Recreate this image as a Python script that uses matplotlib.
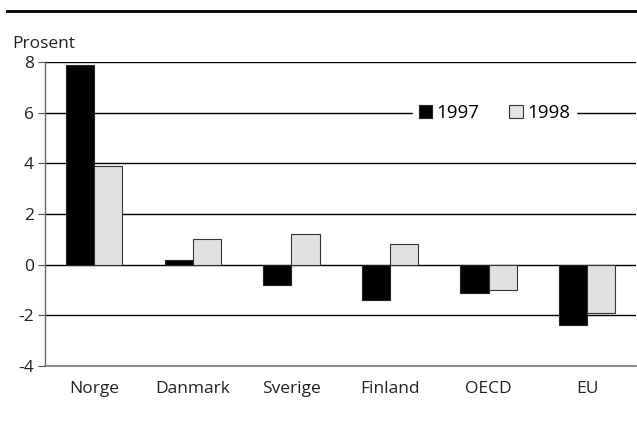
import matplotlib
matplotlib.use("Agg")
import matplotlib.pyplot as plt
from matplotlib.lines import Line2D
import numpy as np

categories = ["Norge", "Danmark", "Sverige", "Finland", "OECD", "EU"]
values_1997 = [7.9, 0.2, -0.8, -1.4, -1.1, -2.4]
values_1998 = [3.9, 1.0, 1.2, 0.8, -1.0, -1.9]
series_labels = ["1997", "1998"]
yticks = [-4, -2, 0, 2, 4, 6, 8]

plt.rcParams['font.family'] = ['Open Sans', 'DejaVu Sans']

fig = plt.figure(figsize=(6.37, 4.21), dpi=100)
ax = fig.add_axes([0.0707, 0.1306, 0.9283, 0.7221])

x = np.arange(len(categories))
w = 0.285
ax.bar(x - w/2, values_1997, w, color="black", edgecolor="#222222", linewidth=0.8,
       label=series_labels[0], zorder=3)
ax.bar(x + w/2, values_1998, w, color="#e1e1e1", edgecolor="#333333", linewidth=0.8,
       label=series_labels[1], zorder=3)

ax.set_xlim(-0.5, len(categories) - 0.5)
ax.set_ylim(-4, 8)
ax.set_yticks(yticks)
ax.set_yticklabels([str(t) for t in yticks], fontsize=12.5, color="#222222")
ax.set_xticks(x)
ax.set_xticklabels(categories, fontsize=12.5, color="#222222")
ax.tick_params(axis='x', length=0, pad=11)
ax.tick_params(axis='y', length=5, width=0.8, color="#555555", pad=3, direction='out')

for t in yticks[1:]:
    ax.axhline(t, color="black", linewidth=1.0, zorder=1)

for s in ["top", "right"]:
    ax.spines[s].set_visible(False)
ax.spines["left"].set_color("#666666")
ax.spines["left"].set_linewidth(1.0)
ax.spines["bottom"].set_color("#777777")
ax.spines["bottom"].set_linewidth(1.2)

leg = ax.legend(loc="center", bbox_to_anchor=(0.760, 0.833), ncol=2, frameon=True,
                fontsize=13.5, handlelength=0.7, handleheight=0.7, handletextpad=0.25,
                columnspacing=1.6, borderpad=0.3, borderaxespad=0, fancybox=False)
leg.get_frame().set_edgecolor("white")
leg.get_frame().set_facecolor("white")
leg.get_frame().set_alpha(1)
leg.set_zorder(5)

fig.text(12/637, 1 - 44/421, "Prosent", fontsize=12.5, color="#222222", va="center", ha="left")
fig.add_artist(Line2D([7/637, 1.0], [1 - 11/421, 1 - 11/421], color="black", linewidth=2.0))

fig.savefig("out.png", dpi=100)
